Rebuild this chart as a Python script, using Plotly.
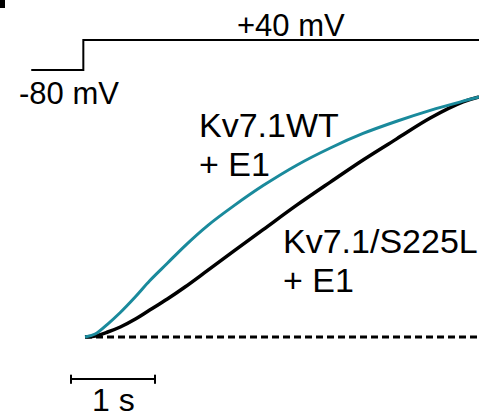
import plotly.graph_objects as go

# time (s) after the voltage step
t = [0, 0.12, 0.27, 0.42, 0.6, 0.77, 0.98, 1.19, 1.46, 1.77, 2.12, 2.52, 2.92, 3.31, 3.71, 4.11, 4.5, 4.69]
# normalized current
wt_e1 = [0, 0.0125, 0.054, 0.102, 0.1675, 0.2342, 0.3071, 0.38, 0.4642, 0.5462, 0.6308, 0.7158, 0.7875, 0.8479, 0.8988, 0.9442, 0.9825, 1.0]
s225l_e1 = [0, 0.0042, 0.0208, 0.0417, 0.075, 0.1125, 0.1583, 0.2083, 0.2775, 0.3575, 0.4471, 0.5492, 0.6454, 0.7375, 0.8254, 0.9121, 0.9792, 1.0]

# voltage protocol
prot_t = [-0.64, -0.02, -0.02, 4.69]
prot_v = [-80, -80, 40, 40]

# scale bar (1 s)
bar_t = [-0.167, 0.833]
bar_y = -0.175

TEAL = "#1a8a9c"
FONT = "Liberation Sans, Arial, sans-serif"

fig = go.Figure()

# baseline (zero current)
fig.add_trace(go.Scatter(x=[t[0], t[-1]], y=[0, 0], mode="lines",
                         line=dict(color="black", width=3, dash="7px,4px"),
                         hoverinfo="skip", showlegend=False))
fig.add_trace(go.Scatter(x=t, y=s225l_e1, mode="lines",
                         line=dict(color="black", width=3.5, shape="spline"),
                         showlegend=False))
fig.add_trace(go.Scatter(x=t, y=wt_e1, mode="lines",
                         line=dict(color=TEAL, width=3, shape="spline"),
                         showlegend=False))
# protocol
fig.add_trace(go.Scatter(x=prot_t, y=prot_v, mode="lines", yaxis="y2",
                         line=dict(color="black", width=2), showlegend=False))
# scale bar
fig.add_trace(go.Scatter(x=bar_t, y=[bar_y, bar_y], mode="lines",
                         line=dict(color="black", width=2), showlegend=False))
for bt in bar_t:
    fig.add_trace(go.Scatter(x=[bt, bt], y=[bar_y + 0.018, bar_y - 0.02], mode="lines",
                             line=dict(color="black", width=2), showlegend=False))

ann = []
def add(text, x, y, yref="y", xanchor="center", yanchor="middle", size=34):
    ann.append(dict(text=text, x=x, y=y, xref="x", yref=yref, xanchor=xanchor,
                    yanchor=yanchor, showarrow=False,
                    font=dict(family=FONT, size=size, color="black")))

add("+40 mV", 2.452, 98, yref="y2", size=31)
add("-80 mV", -0.196, -172, yref="y2", size=31)
add("Kv7.1WT", 1.33, 0.883, xanchor="left")
add("+ E1", 1.33, 0.719, xanchor="left")
add("Kv7.1/S225L", 2.33, 0.40, xanchor="left")
add("+ E1", 2.33, 0.2375, xanchor="left")
add("1 s", 0.339, -0.3458, yanchor="bottom", size=32)

fig.update_layout(
    width=479, height=420,
    margin=dict(l=0, r=0, t=0, b=0),
    paper_bgcolor="white", plot_bgcolor="white",
    xaxis=dict(range=[-1.012, 4.690], visible=False, fixedrange=True),
    yaxis=dict(range=[-0.3458, 1.404], visible=False, fixedrange=True),
    yaxis2=dict(range=[-1480, 200], visible=False, overlaying="y", fixedrange=True),
    annotations=ann,
    shapes=[dict(type="rect", xref="paper", yref="paper", x0=0, x1=5/479, y0=1 - 8/420, y1=1,
                 fillcolor="black", line=dict(width=0))],
)

fig.write_html("out.html")
